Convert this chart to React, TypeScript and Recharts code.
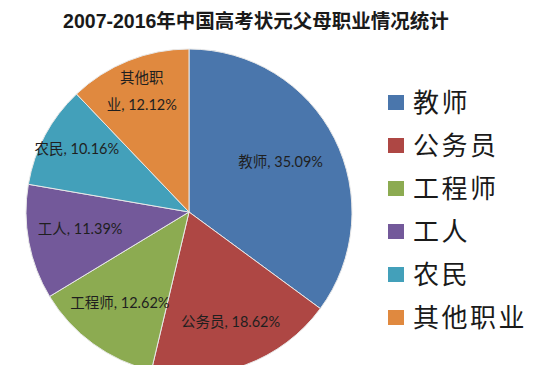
import { PieChart, Pie, Cell, Legend } from 'recharts'

const categories = ['教师', '公务员', '工程师', '工人', '农民', '其他职业']
const shares = [35.09, 18.62, 12.62, 11.39, 10.16, 12.12]
const colors = ['#4A76AC', '#AE4744', '#8CAB51', '#73599A', '#43A0BA', '#E0893F']

const data = categories.map((name, i) => ({ name, value: shares[i] }))

// how far out along the radius each label sits (Excel "best fit" look)
const labelRadius = [0.63, 0.74, 0.72, 0.68, 0.78, 0.78]

const FONT = "Lato, 'Noto Sans CJK SC', sans-serif"

function renderLabel(props: any) {
  const { cx, cy, midAngle, outerRadius, index, name, value } = props
  const RAD = Math.PI / 180
  const r = outerRadius * labelRadius[index]
  const x = cx + r * Math.cos(-midAngle * RAD)
  const y = cy + r * Math.sin(-midAngle * RAD) - 4
  const text = `${name}, ${value.toFixed(2)}%`
  if (name === '其他职业') {
    return (
      <text x={x} y={y} fill="#1f1f1f" fontSize={14.5} fontFamily={FONT} textAnchor="middle">
        <tspan x={x} dy={-7}>其他职</tspan>
        <tspan x={x} dy={27}>业, {value.toFixed(2)}%</tspan>
      </text>
    )
  }
  return (
    <text x={x} y={y} fill="#1f1f1f" fontSize={14.5} fontFamily={FONT} textAnchor="middle" dominantBaseline="central">
      {text}
    </text>
  )
}

function LegendBox() {
  return (
    <div style={{ fontFamily: FONT }}>
      {categories.map((c, i) => (
        <div key={c} style={{ display: 'flex', alignItems: 'center', height: 43 }}>
          <span style={{ width: 16, height: 15, background: colors[i], marginRight: 9, flexShrink: 0 }} />
          <span style={{ fontSize: 26, color: '#1a1a1a', lineHeight: '43px', letterSpacing: 2.5 }}>{c}</span>
        </div>
      ))}
    </div>
  )
}

export default function App() {
  return (
    <div style={{ position: 'absolute', left: 0, top: 0, width: 536, height: 365, background: '#fff', overflow: 'hidden' }}>
      <div
        style={{
          position: 'absolute',
          top: 5,
          left: 0,
          width: 512,
          textAlign: 'center',
          fontFamily: "'Liberation Sans', 'Noto Sans CJK SC', sans-serif",
          fontWeight: 700,
          fontSize: 19.5,
          color: '#1a1a1a',
        }}
      >
        2007-2016年中国高考状元父母职业情况统计
      </div>
      <PieChart width={536} height={365}>
        <Pie
          data={data}
          dataKey="value"
          nameKey="name"
          cx={184}
          cy={207}
          outerRadius={163}
          startAngle={90}
          endAngle={-270}
          stroke="#e8e8e8"
          strokeWidth={1}
          label={renderLabel}
          labelLine={false}
          isAnimationActive={false}
        >
          {data.map((d, i) => (
            <Cell key={d.name} fill={colors[i]} />
          ))}
        </Pie>
        <Legend
          layout="vertical"
          content={() => <LegendBox />}
          wrapperStyle={{ left: 388, top: 81, width: 148 }}
        />
      </PieChart>
    </div>
  )
}
